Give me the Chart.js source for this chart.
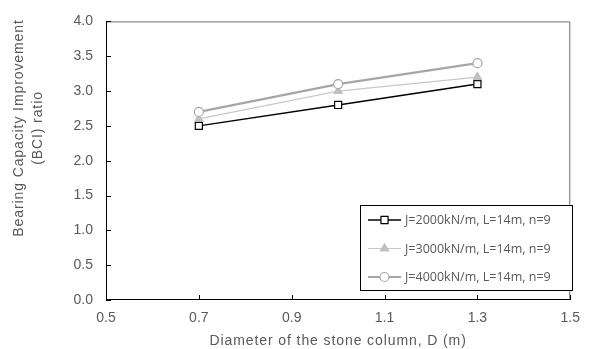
<!DOCTYPE html>
<html>
<head>
<meta charset="utf-8">
<script src="https://cdn.jsdelivr.net/npm/chart.js@4"></script>
<style>
  html, body { margin: 0; padding: 0; background: #fff; }
  #wrap { width: 590px; height: 349px; }
</style>
</head>
<body>
<div id="wrap"><canvas id="chart" width="590" height="349"></canvas></div>
<script>
// column diameters (m)
const diameters = [0.7, 1.0, 1.3];
// BCI ratio per geogrid stiffness
const bciJ2000 = [2.5, 2.8, 3.1];
const bciJ3000 = [2.6, 3.0, 3.2];
const bciJ4000 = [2.7, 3.1, 3.4];
const seriesLabels = [
  'J=2000kN/m, L=14m, n=9',
  'J=3000kN/m, L=14m, n=9',
  'J=4000kN/m, L=14m, n=9'
];
const xTicks = [0.5, 0.7, 0.9, 1.1, 1.3, 1.5];
const xTitle = 'Diameter of the stone column, D (m)';
const yTitle = ['Bearing Capacity Improvement', '(BCI) ratio'];

const GREY_TEXT = '#595959';
const FONT = 'Liberation Sans, Arial, sans-serif';

function toPoints(ys) {
  return diameters.map((d, i) => ({ x: d, y: ys[i] }));
}

// frame, inward tick marks and axis titles (Excel-style wide spacing)
const framePlugin = {
  id: 'frame',
  afterDatasetsDraw(chart) {
    const { ctx, chartArea: a, scales } = chart;
    ctx.save();
    ctx.lineWidth = 1;
    ctx.strokeStyle = '#6f6f6f';
    ctx.beginPath();
    ctx.moveTo(a.left, a.top + 0.5);
    ctx.lineTo(a.right - 0.5, a.top + 0.5);
    ctx.lineTo(a.right - 0.5, a.bottom);
    ctx.stroke();
    ctx.strokeStyle = '#000';
    ctx.beginPath();
    ctx.moveTo(a.left + 0.5, a.top);
    ctx.lineTo(a.left + 0.5, a.bottom - 0.5);
    ctx.lineTo(a.right, a.bottom - 0.5);
    ctx.stroke();
    ctx.beginPath();
    scales.x.ticks.forEach((t, i) => {
      const px = Math.round(scales.x.getPixelForTick(i)) + 0.5;
      ctx.moveTo(px, a.bottom);
      ctx.lineTo(px, a.bottom - 5);
    });
    scales.y.ticks.forEach((t, i) => {
      const py = Math.round(scales.y.getPixelForTick(i)) + 0.5;
      ctx.moveTo(a.left, py);
      ctx.lineTo(a.left + 5, py);
    });
    ctx.stroke();

    ctx.fillStyle = GREY_TEXT;
    ctx.font = '14px ' + FONT;
    ctx.letterSpacing = '0.9px';
    ctx.textAlign = 'center';
    ctx.textBaseline = 'alphabetic';
    ctx.fillText(xTitle, (a.left + a.right) / 2, 345);
    ctx.translate(0, 128);
    ctx.rotate(-Math.PI / 2);
    ctx.fillText(yTitle[0], 0, 23);
    ctx.fillText(yTitle[1], 0, 42);
    ctx.restore();
  }
};

// boxed legend in the lower right of the plot
const boxLegendPlugin = {
  id: 'boxLegend',
  afterDraw(chart) {
    const { ctx } = chart;
    const box = { x: 360.5, y: 205.5, w: 212, h: 85 };
    ctx.save();
    ctx.fillStyle = '#fff';
    ctx.fillRect(box.x, box.y, box.w, box.h);
    ctx.strokeStyle = '#000';
    ctx.lineWidth = 1;
    ctx.strokeRect(box.x, box.y, box.w, box.h);
    const rows = [220, 248.5, 277];
    chart.data.datasets.forEach((ds, i) => {
      const y = rows[i];
      ctx.strokeStyle = ds.borderColor;
      ctx.lineWidth = ds.borderWidth;
      ctx.beginPath();
      ctx.moveTo(368, y);
      ctx.lineTo(401, y);
      ctx.stroke();
      ctx.fillStyle = ds.pointBackgroundColor;
      ctx.strokeStyle = ds.pointBorderColor;
      ctx.lineWidth = ds.pointBorderWidth;
      Chart.helpers.drawPoint(ctx, {
        pointStyle: ds.pointStyle,
        radius: ds.pointRadius,
        borderWidth: ds.pointBorderWidth
      }, 384.5, y);
      ctx.fillStyle = GREY_TEXT;
      ctx.font = '12.5px "Open Sans", sans-serif';
      ctx.textBaseline = 'middle';
      ctx.fillText(ds.label, 405, y + 0.5);
    });
    ctx.restore();
  }
};

const chart = new Chart(document.getElementById('chart'), {
  type: 'line',
  data: {
    datasets: [
      {
        label: seriesLabels[0],
        data: toPoints(bciJ2000),
        borderColor: '#000000',
        borderWidth: 1.5,
        pointStyle: 'rect',
        pointRadius: 5,
        pointBackgroundColor: '#ffffff',
        pointBorderColor: '#000000',
        pointBorderWidth: 1.2,
        order: 3
      },
      {
        label: seriesLabels[1],
        data: toPoints(bciJ3000),
        borderColor: '#c8c8c8',
        borderWidth: 1.2,
        pointStyle: 'triangle',
        pointRadius: 5,
        pointBackgroundColor: '#bfbfbf',
        pointBorderColor: '#bfbfbf',
        pointBorderWidth: 1,
        order: 2
      },
      {
        label: seriesLabels[2],
        data: toPoints(bciJ4000),
        borderColor: '#a6a6a6',
        borderWidth: 2.2,
        pointStyle: 'circle',
        pointRadius: 4.5,
        pointBackgroundColor: '#ffffff',
        pointBorderColor: '#a6a6a6',
        pointBorderWidth: 1.2,
        order: 1
      }
    ]
  },
  options: {
    responsive: false,
    animation: false,
    layout: { padding: { top: 13, right: 15, left: 0, bottom: 0 } },
    plugins: {
      legend: { display: false },
      tooltip: { enabled: false }
    },
    scales: {
      x: {
        type: 'linear',
        min: 0.5,
        max: 1.5,
        afterFit: s => { s.height = 49; },
        afterBuildTicks: s => {
          s.ticks = xTicks.map(v => ({ value: v }));
        },
        grid: { display: false, drawTicks: false },
        border: { display: false },
        ticks: {
          padding: 10,
          color: GREY_TEXT,
          font: { family: FONT, size: 14 },
          callback: v => Number(v).toFixed(1)
        }
      },
      y: {
        min: 0,
        max: 4,
        afterFit: s => { s.width = 106; },
        grid: { display: false, drawTicks: false },
        border: { display: false },
        ticks: {
          stepSize: 0.5,
          padding: 13,
          color: GREY_TEXT,
          font: { family: FONT, size: 14 },
          callback: v => Number(v).toFixed(1)
        }
      }
    }
  },
  plugins: [framePlugin, boxLegendPlugin]
});
</script>
</body>
</html>
